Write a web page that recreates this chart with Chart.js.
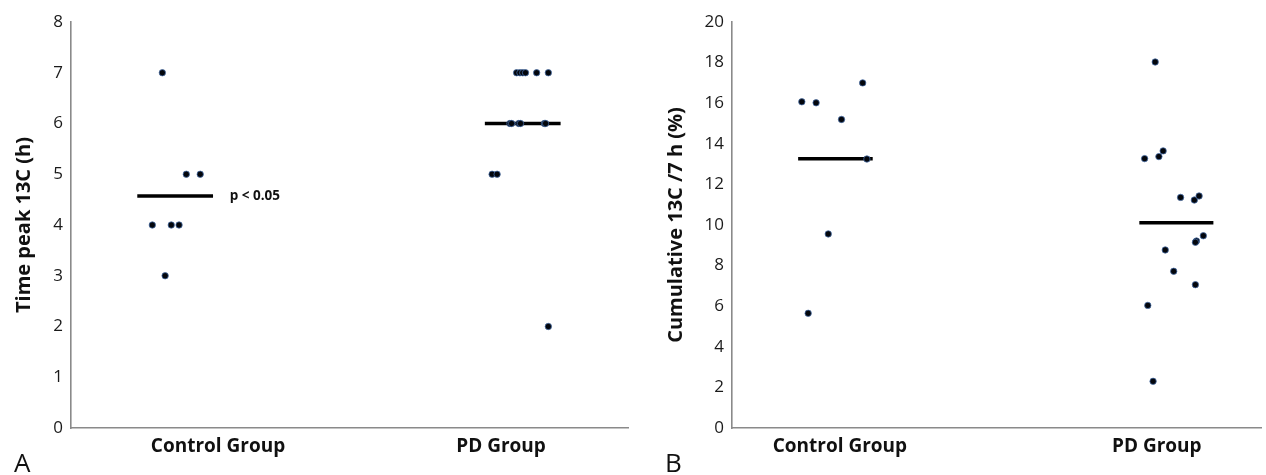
<!DOCTYPE html>
<html>
<head>
<meta charset="utf-8">
<script src="https://cdn.jsdelivr.net/npm/chart.js@4"></script>
<style>
  body { margin: 0; background: #fff; }
  #wrap { position: relative; width: 1266px; height: 475px; }
  .box { position: absolute; top: 0; width: 633px; height: 475px; }
  .panel { position: absolute; font-family: "Open Sans", sans-serif; font-size: 26px; color: #111; }
</style>
</head>
<body>
<div id="wrap">
  <div class="box" style="left:0"><canvas id="chartA" width="633" height="475"></canvas></div>
  <div class="box" style="left:633px"><canvas id="chartB" width="633" height="475"></canvas></div>
  <div class="panel" style="left:14px; top:444px;">A</div>
  <div class="panel" style="left:665px; top:444px;">B</div>
</div>
<script>
'use strict'

const categories = ['Control Group', 'PD Group'];
// where the group labels sit along each x axis (0-100)
const categoryPosA = [26.4, 77.2];
const categoryPosB = [20.4, 80.3];

// panel A : time peak 13C (h)
const timeControl = [7, 5, 5, 4, 4, 4, 3];
const timeControlJitter = [16.4, 20.7, 23.2, 14.6, 18.0, 19.4, 16.9];
const timePD = [7, 7, 7, 7, 7, 7, 6, 6, 6, 6, 6, 6, 5, 5, 2];
const timePDJitter = [80.0, 80.6, 81.1, 81.6, 83.6, 85.7, 78.8, 79.1, 80.4, 80.7, 85.0, 85.2, 75.6, 76.5, 85.7];
const timeMeans = [4.57, 6.0];
const timeMeanSpan = [[11.9, 25.5], [74.3, 87.9]];

// panel B : cumulative 13C / 7 h (%)
const cumControl = [16.07, 16.02, 15.2, 17.0, 13.25, 9.56, 5.65];
const cumControlJitter = [13.2, 15.9, 20.7, 24.7, 25.5, 18.2, 14.4];
const cumPD = [18.03, 13.27, 13.37, 13.65, 11.36, 11.23, 11.43, 9.47, 9.21, 9.15, 8.77, 7.72, 7.06, 6.04, 2.3];
const cumPDJitter = [80.0, 78.0, 80.7, 81.5, 84.8, 87.4, 88.3, 89.1, 87.8, 87.6, 81.9, 83.5, 87.6, 78.6, 79.6];
const cumMeans = [13.26, 10.11];
const cumMeanSpan = [[12.5, 26.6], [77.0, 91.0]];

const pText = 'p < 0.05';
const pAt = { x: 28.5, y: 4.57 };

function toPoints(xs, ys) {
  return ys.map((v, i) => ({ x: xs[i], y: v }));
}

function meanSets(means, spans) {
  return means.map((m, i) => ({
    type: 'line',
    data: [{ x: spans[i][0], y: m }, { x: spans[i][1], y: m }],
    borderColor: '#000',
    borderWidth: 3.5,
    pointRadius: 0,
    fill: false,
  }));
}

const dotStyle = {
  backgroundColor: '#03060c',
  borderColor: 'rgba(70,110,170,0.75)',
  borderWidth: 1,
  pointRadius: 3.2,
};

//p < 0.05 の注記
const pLabel = {
  id: 'pLabel',
  afterDatasetsDraw(chart) {
    const { ctx, scales } = chart;
    ctx.save();
    ctx.font = 'bold 13.5px "Open Sans"';
    ctx.fillStyle = '#111';
    ctx.textBaseline = 'middle';
    ctx.fillText(pText, scales.x.getPixelForValue(pAt.x), scales.y.getPixelForValue(pAt.y));
    ctx.restore();
  }
};

function makeChart(id, opts) {
  const catPos = opts.catPos;
  return new Chart(document.getElementById(id), {
    type: 'scatter',
    data: {
      datasets: [
        Object.assign({ data: toPoints(opts.controlX, opts.control) }, dotStyle),
        Object.assign({ data: toPoints(opts.pdX, opts.pd) }, dotStyle),
        ...meanSets(opts.means, opts.spans),
      ]
    },
    options: {
      responsive: false,
      animation: false,
      layout: { padding: { top: 22, right: opts.padRight, bottom: 0, left: 0 } },
      plugins: { legend: { display: false }, tooltip: { enabled: false } },
      scales: {
        x: {
          type: 'linear',
          min: 0,
          max: 100,
          grid: { display: false, drawTicks: false },
          border: { color: '#8a8a8a', width: 1.6 },
          afterBuildTicks: (s) => { s.ticks = catPos.map(v => ({ value: v })); },
          afterFit: (s) => { s.height = 47; },
          ticks: {
            padding: 7,
            color: '#111',
            font: { family: 'Open Sans', size: 19, weight: 'bold' },
            callback: (v) => categories[catPos.indexOf(v)],
          }
        },
        y: {
          min: 0,
          max: opts.yMax,
          grid: { display: false, drawTicks: false },
          border: { color: '#8a8a8a', width: 1.6 },
          afterFit: (s) => { s.width = opts.yWidth; },
          ticks: {
            stepSize: opts.step,
            padding: 8,
            color: '#1a1a1a',
            font: { family: 'Open Sans', size: 17 },
          },
          title: {
            display: true,
            text: opts.title,
            color: '#111',
            padding: { top: opts.titlePad, bottom: 0 },
            font: { family: 'Open Sans', size: 20, weight: 'bold' },
          }
        }
      }
    },
    plugins: opts.plugins || []
  });
}

makeChart('chartA', {
  control: timeControl, controlX: timeControlJitter,
  pd: timePD, pdX: timePDJitter,
  means: timeMeans, spans: timeMeanSpan,
  catPos: categoryPosA,
  yMax: 8, step: 1, yWidth: 71, padRight: 1,
  title: 'Time peak 13C (h)', titlePad: 12,
  plugins: [pLabel],
});

makeChart('chartB', {
  control: cumControl, controlX: cumControlJitter,
  pd: cumPD, pdX: cumPDJitter,
  means: cumMeans, spans: cumMeanSpan,
  catPos: categoryPosB,
  yMax: 20, step: 2, yWidth: 99, padRight: 0,
  title: 'Cumulative 13C /7 h (%)', titlePad: 31,
});
</script>
</body>
</html>
